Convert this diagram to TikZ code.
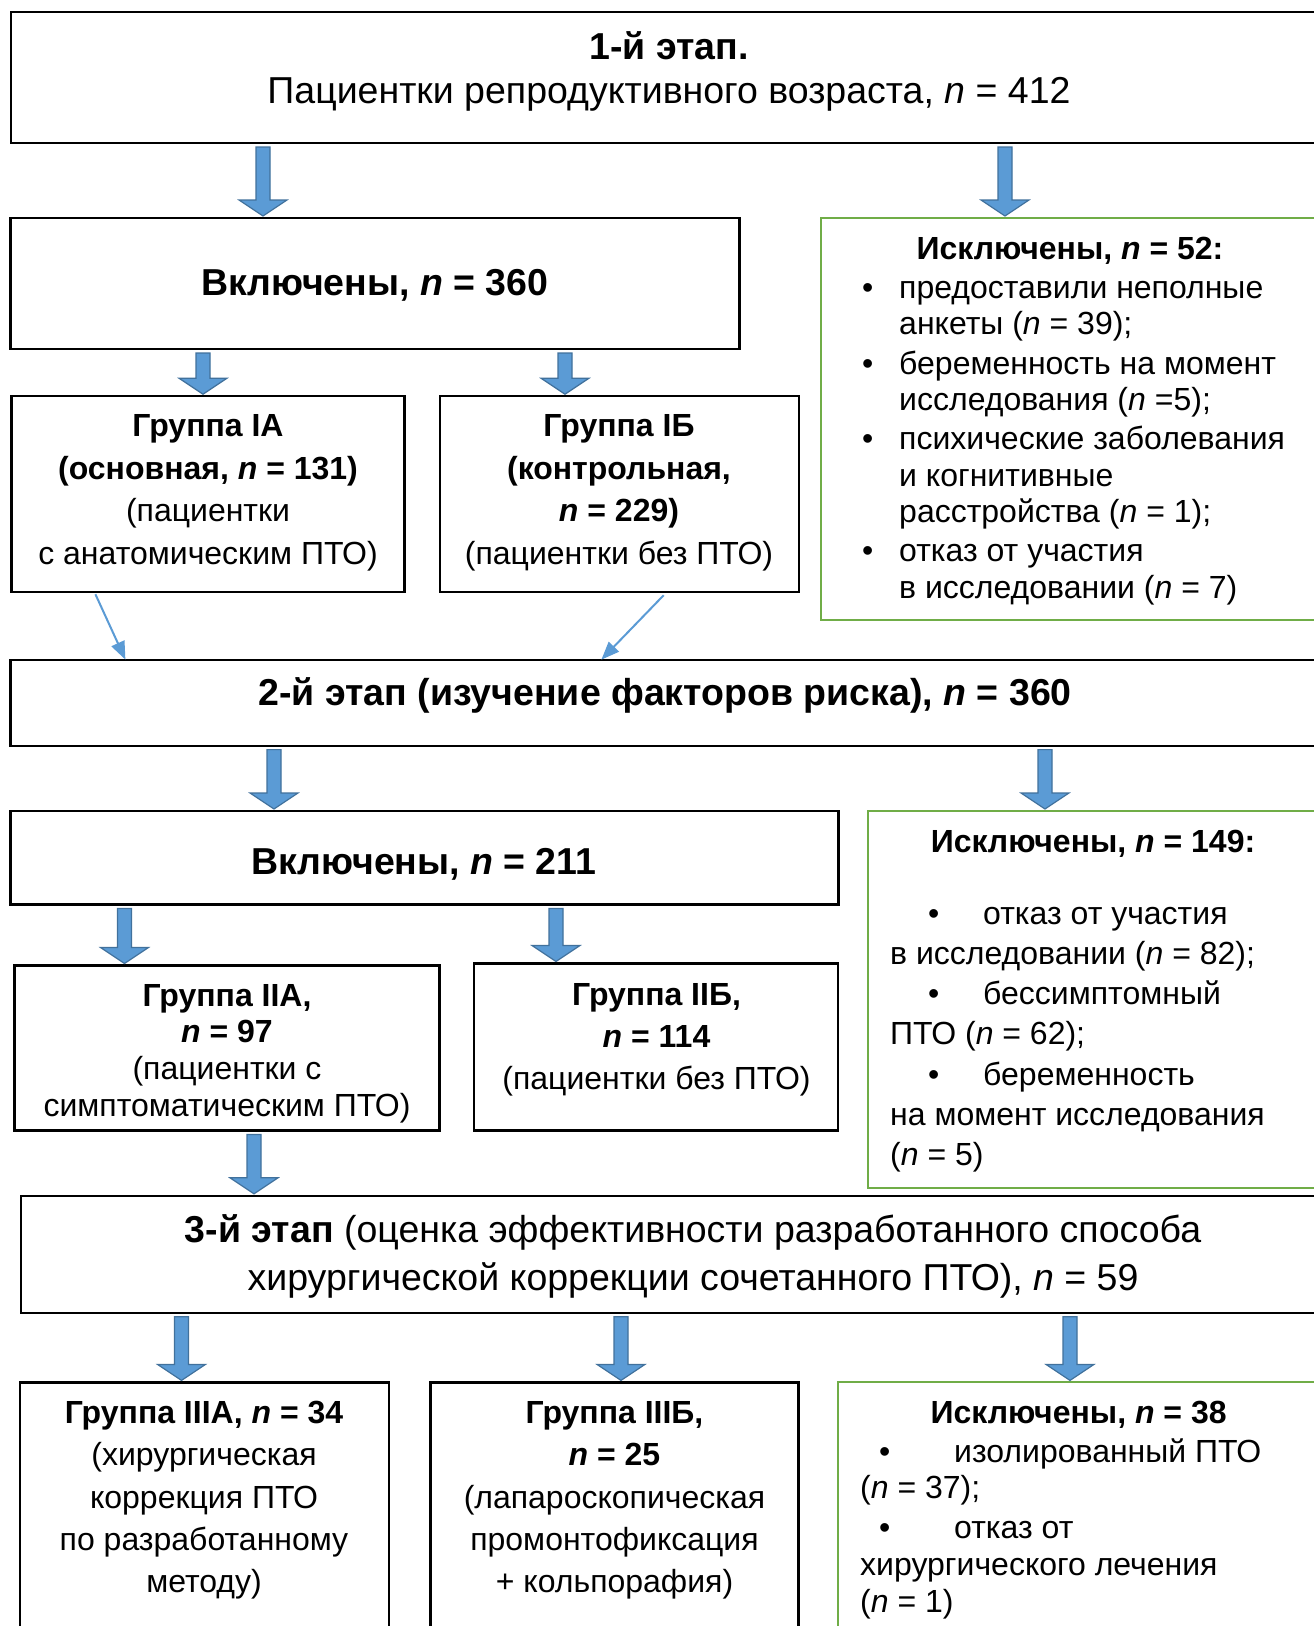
\documentclass[tikz,border=0pt]{standalone}
\usepackage{fontspec}
\setmainfont{Liberation Sans}
\usetikzlibrary{calc,arrows.meta}

\definecolor{arrowblue}{HTML}{5B9BD5}
\definecolor{arrowedge}{HTML}{41719C}
\definecolor{exclgreen}{HTML}{70AD47}

\tikzset{
  stagebox/.style={draw=black, line width=2.2pt, rectangle, anchor=north west, inner sep=0pt, outer sep=0pt},
  exclbox/.style={draw=exclgreen, line width=2pt, rectangle, anchor=north west, inner sep=0pt, outer sep=0pt},
  txt/.style={inner sep=0pt, anchor=base, font=\fontsize{32}{#1}\selectfont},
  txt/.default=37,
  bigtxt/.style={inner sep=0pt, anchor=base, font=\fontsize{37.5}{#1}\selectfont},
  bigtxt/.default=44.6,
  blockarr/.style={fill=arrowblue, draw=arrowedge, line width=1.2pt, line join=miter},
  thinarr/.style={draw=arrowblue, line width=2pt, -{Triangle[width=14pt,length=18pt]}},
}

\newcommand\boxlines[2][c]{\begin{tabular}[t]{@{}#1@{}}#2\end{tabular}}
\newcommand\nn{\textit{n}}
% block arrow: x, from node, to node
\newcommand\blockarrow[3]{%
  \coordinate (ba-s) at (#1,0 |- #2.south);
  \coordinate (ba-e) at (#1,0 |- #3.north);
  \draw[blockarr] ($(ba-s)+(-7,4)$) -- ($(ba-s)+(7,4)$) -- ($(ba-e)+(7,-18)$) -- ($(ba-e)+(24,-18)$)
    -- ($(ba-e)+(0,-2)$) -- ($(ba-e)+(-24,-18)$) -- ($(ba-e)+(-7,-18)$) -- cycle;}

\begin{document}
\begin{tikzpicture}[x=1pt,y=1pt,yscale=-1,xscale=1]
  \path[use as bounding box, fill=white] (0,0) rectangle (1314,1626);
  \clip (0,0) rectangle (1314,1626);

  % boxes
  \node[stagebox, minimum width=1316, minimum height=131] (s1) at (11,12) {};
  \node[stagebox, minimum width=729, minimum height=131] (in1) at (10.4,218) {};
  \node[exclbox, minimum width=509, minimum height=402] (ex1) at (821.4,218) {};
  \node[stagebox, minimum width=393, minimum height=196] (ia) at (11.4,396.2) {};
  \node[stagebox, minimum width=359, minimum height=196] (ib) at (439.7,396.2) {};
  \node[stagebox, minimum width=1320, minimum height=86] (s2) at (10.4,659.6) {};
  \node[stagebox, minimum width=828, minimum height=93.4] (in2) at (10.4,811) {};
  \node[exclbox, minimum width=462, minimum height=376.5] (ex2) at (868,811) {};
  \node[stagebox, minimum width=425, minimum height=165] (iia) at (14.5,965.5) {};
  \node[stagebox, minimum width=364, minimum height=167] (iib) at (474,963.5) {};
  \node[stagebox, minimum width=1310, minimum height=117] (s3) at (20.7,1195.8) {};
  \node[stagebox, minimum width=369, minimum height=260] (iiia) at (19.7,1382.4) {};
  \node[stagebox, minimum width=368, minimum height=260] (iiib) at (430.4,1382.4) {};
  \node[exclbox, minimum width=492, minimum height=260] (ex3) at (838,1382.4) {};

  % texts
  \node[bigtxt=44.6] (t-s1) at (669,59) {\boxlines{\textbf{1-й этап.}\\Пациентки репродуктивного возраста, \nn{} = 412}};
  \node[bigtxt] (t-in1) at (375,295.5) {\textbf{Включены, \nn{} = 360}};
  \node[txt] (t-ex1h) at (1070,259) {\textbf{Исключены, \nn{} = 52:}};
  \node[txt=36.3, anchor=base west] (t-ex1) at (862,298.6) {\boxlines[l]{%
    \makebox[37pt][l]{\textbullet}предоставили неполные\\\hspace*{37pt}анкеты (\nn{} = 39);\\[3pt]
    \makebox[37pt][l]{\textbullet}беременность на момент\\\hspace*{37pt}исследования (\nn{} =5);\\[3pt]
    \makebox[37pt][l]{\textbullet}психические заболевания\\\hspace*{37pt}и когнитивные\\\hspace*{37pt}расстройства (\nn{} = 1);\\[3pt]
    \makebox[37pt][l]{\textbullet}отказ от участия\\\hspace*{37pt}в исследовании (\nn{} = 7)}};
  \node[txt=42.5] (t-ia) at (208,436.6) {\boxlines{\textbf{Группа IА}\\\textbf{(основная, \nn{} = 131)}\\(пациентки\\с анатомическим ПТО)}};
  \node[txt=42.5] (t-ib) at (619,436.6) {\boxlines{\textbf{Группа IБ}\\\textbf{(контрольная,}\\\textbf{\nn{} = 229)}\\(пациентки без ПТО)}};
  \node[bigtxt] (t-s2) at (665,705) {\textbf{2-й этап (изучение факторов риска), \nn{} = 360}};
  \node[bigtxt] (t-in2) at (424,874) {\textbf{Включены, \nn{} = 211}};
  \node[txt] (t-ex2h) at (1093,852.5) {\textbf{Исключены, \nn{} = 149:}};
  \node[txt=40.3, anchor=base west] (t-ex2) at (890,924) {\boxlines[l]{%
    \hspace*{38pt}\makebox[55pt][l]{\textbullet}отказ от участия\\в исследовании (\nn{} = 82);\\
    \hspace*{38pt}\makebox[55pt][l]{\textbullet}бессимптомный\\ПТО (\nn{} = 62);\\
    \hspace*{38pt}\makebox[55pt][l]{\textbullet}беременность\\на момент исследования\\(\nn{} = 5)}};
  \node[txt=36.7] (t-iia) at (227,1006) {\boxlines{\textbf{Группа IIА,}\\\textbf{\nn{} = 97}\\(пациентки с\\симптоматическим ПТО)}};
  \node[txt=42] (t-iib) at (656.5,1005) {\boxlines{\textbf{Группа IIБ,}\\\textbf{\nn{} = 114}\\(пациентки без ПТО)}};
  \node[bigtxt=48.7] (t-s3) at (693,1242) {\boxlines{\textbf{3-й этап} (оценка эффективности разработанного способа\\хирургической коррекции сочетанного ПТО), \nn{} = 59}};
  \node[txt=42.3] (t-iiia) at (204,1423.5) {\boxlines{\textbf{Группа IIIА, \nn{} = 34}\\(хирургическая\\коррекция ПТО\\по разработанному\\методу)}};
  \node[txt=42.3] (t-iiib) at (614.5,1423.5) {\boxlines{\textbf{Группа IIIБ,}\\\textbf{\nn{} = 25}\\(лапароскопическая\\промонтофиксация\\+ кольпорафия)}};
  \node[txt] (t-ex3h) at (1078.6,1423.5) {\textbf{Исключены, \nn{} = 38}};
  \node[txt=36.3, anchor=base west] (t-ex3) at (860,1462.3) {\boxlines[l]{%
    \hspace*{19pt}\makebox[75pt][l]{\textbullet}изолированный ПТО\\(\nn{} = 37);\\[4pt]
    \hspace*{19pt}\makebox[75pt][l]{\textbullet}отказ от\\хирургического лечения\\[1pt]
    (\nn{} = 1)}};

  % arrows
  \blockarrow{263}{s1}{in1}
  \blockarrow{1005}{s1}{ex1}
  \blockarrow{203}{in1}{ia}
  \blockarrow{565}{in1}{ib}
  \draw[thinarr] ($(ia.south west)+(84,2)$) -- ($(s2.north west)+(115,0)$);
  \draw[thinarr] ($(ib.south west)+(224,3)$) -- ($(s2.north west)+(591,0)$);
  \blockarrow{274}{s2}{in2}
  \blockarrow{1045}{s2}{ex2}
  \blockarrow{124.5}{in2}{iia}
  \blockarrow{556}{in2}{iib}
  \blockarrow{254}{iia}{s3}
  \blockarrow{181.5}{s3}{iiia}
  \blockarrow{621}{s3}{iiib}
  \blockarrow{1070}{s3}{ex3}
\end{tikzpicture}
\end{document}
